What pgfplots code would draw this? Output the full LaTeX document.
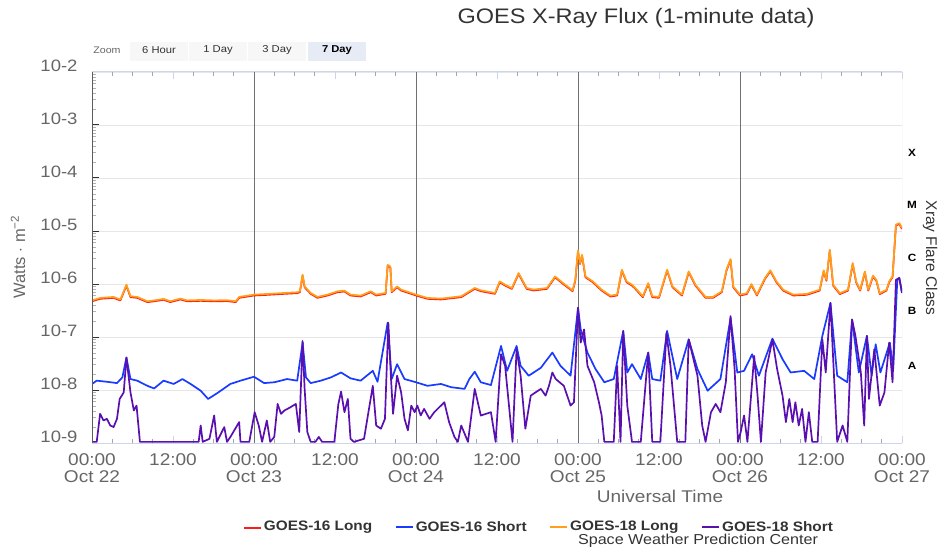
\documentclass[border=0pt]{standalone}
\usepackage{pgfplots}
\pgfplotsset{compat=1.18}
\usepackage{pgfplotstable}
\usepackage{fontspec}
\setmainfont{Liberation Sans}[FakeStretch=1.12]
\newfontfamily\plainsans{Liberation Sans}
\definecolor{labgray}{HTML}{666666}
\definecolor{dark}{HTML}{333333}
\definecolor{axblue}{HTML}{CCD6EB}
\definecolor{gridc}{HTML}{E6E6E6}
\definecolor{dayline}{HTML}{707070}
\definecolor{c16l}{HTML}{FF1A1A}
\definecolor{c16s}{HTML}{1A3BFF}
\definecolor{c18l}{HTML}{FFA01A}
\definecolor{c18s}{HTML}{5A10B0}
\definecolor{btn}{HTML}{F7F7F7}
\definecolor{btnsel}{HTML}{E6EBF5}

\pgfplotstableread{
h v
0 4.9e-7
1.2 5.46e-7
3.2 5.7e-7
4.2 5.08e-7
5.1 9.7e-7
5.7 5.87e-7
6.7 5.7e-7
8.2 4.73e-7
9.2 4.9e-7
10.6 5.24e-7
11.6 4.73e-7
13.1 5.31e-7
14.1 4.9e-7
16.1 5.0e-7
18.1 4.9e-7
20.0 4.95e-7
21.3 4.73e-7
21.8 5.7e-7
24 6.31e-7
26 6.49e-7
28.5 6.78e-7
30.4 6.98e-7
30.8 7.29e-7
31.2 1.5e-6
31.5 9.0e-7
32.4 6.78e-7
33.4 5.7e-7
34.9 6.31e-7
36.4 7.29e-7
37.4 7.5e-7
38.3 6.31e-7
39.8 6.04e-7
41.3 7.29e-7
42.1 6.31e-7
43.5 6.78e-7
43.8 2.3e-6
44.2 2.14e-6
44.4 7.29e-7
45.2 9.0e-7
45.8 7.83e-7
48 6.31e-7
49.7 5.46e-7
51.7 5.31e-7
54.7 5.87e-7
56.7 8.41e-7
57.6 7.6e-7
59.7 6.78e-7
60.4 1.12e-6
61.2 9.7e-7
62.2 8.41e-7
63.2 1.61e-6
64.4 8.41e-7
65.4 7.83e-7
67.4 8.41e-7
68.6 1.39e-6
69.8 1.04e-6
71.2 7.6e-7
71.6 1.2e-6
72.0 4.28e-6
72.3 2.48e-6
72.6 3.55e-6
73.1 1.39e-6
74.2 1.12e-6
75.5 7.83e-7
76.8 6.04e-7
77.8 6.31e-7
78.5 1.86e-6
79.2 1.12e-6
80.0 9.7e-7
80.5 8.41e-7
81.6 5.87e-7
82.4 1.04e-6
83.0 5.87e-7
84.0 5.7e-7
85.2 1.86e-6
86.0 9.0e-7
87.4 6.31e-7
88.4 1.73e-6
89.4 9.7e-7
90.9 5.7e-7
92.0 5.69e-7
93.3 7.28e-7
94.0 1.86e-6
94.6 2.96e-6
95.0 9.0e-7
96.0 6.3e-7
97.0 6.7e-7
97.7 1.0e-6
98.5 6.3e-7
99.7 1.3e-6
100.5 1.81e-6
101.4 1.12e-6
102.4 7.8e-7
103.9 6.3e-7
105.9 6.5e-7
107.8 7.8e-7
108.4 1.81e-6
108.8 1.2e-6
109.3 4.45e-6
109.8 9.7e-7
110.8 6.7e-7
112.0 7.8e-7
112.7 2.49e-6
113.2 1.12e-6
113.8 7.8e-7
114.5 1.73e-6
115.0 7.8e-7
115.7 1.44e-6
116.2 1.2e-6
116.7 6.7e-7
117.7 7.8e-7
118.1 1.12e-6
118.6 1.4e-6
119.1 1.32e-5
119.6 1.41e-5
120 1.14e-5
}\longflux

\pgfplotstableread{
h v
0 1.30e-8
0.7 1.5e-8
2.2 1.43e-8
3.7 1.35e-8
4.5 1.73e-8
5.1 4.1e-8
5.7 1.61e-8
6.7 1.5e-8
8.2 1.2e-8
9.2 1.07e-8
10.6 1.5e-8
12.1 1.3e-8
13.4 1.61e-8
14.6 1.3e-8
16.1 9.7e-9
17.2 6.78e-9
18.6 8.8e-9
20.5 1.3e-8
22 1.5e-8
24 1.78e-8
25.5 1.35e-8
27.0 1.4e-8
28.9 1.61e-8
30.4 1.5e-8
31.2 7.83e-8
31.7 1.73e-8
32.4 1.35e-8
33.9 1.5e-8
35.4 1.73e-8
36.9 2.14e-8
38.3 1.66e-8
39.8 1.5e-8
41.6 2.3e-8
42.3 1.43e-8
43.8 1.86e-7
44.4 1.61e-8
45.2 3.07e-8
46.3 1.61e-8
48 1.4e-8
49.7 1.2e-8
51.7 1.3e-8
53.2 1.13e-8
55.2 1.05e-8
55.9 1.61e-8
56.7 2.21e-8
57.6 1.4e-8
59.1 1.24e-8
60.6 6.78e-8
61.5 2.3e-8
62.9 6.78e-8
63.5 2.86e-8
64.7 1.86e-8
66.5 2.63e-8
68.2 5.08e-8
69.4 2.86e-8
70.9 1.86e-8
72 3.55e-7
72.4 1.39e-7
73.4 5.08e-8
74.6 2.48e-8
75.9 1.4e-8
77.3 1.61e-8
78.7 1.3e-7
79.3 2.14e-8
80.0 3.07e-8
81.3 1.61e-8
82.4 5.08e-8
83.0 1.61e-8
84.2 1.5e-8
85.2 1.3e-7
86.7 1.61e-8
88.4 9.0e-8
89.7 2.48e-8
91.2 9.7e-9
93.1 1.61e-8
94.6 2.3e-7
95.6 2.14e-8
96.6 2.3e-8
97.8 4.73e-8
98.8 1.86e-8
100.8 9.3e-8
102.3 3.81e-8
103.5 2.14e-8
105.5 2.3e-8
107.0 1.61e-8
108.2 1.05e-7
109.4 4.4e-7
110.4 1.86e-8
111.9 1.4e-8
112.6 2.14e-7
113.6 2.14e-8
114.8 1.05e-7
115.5 1.86e-8
116.1 7.29e-8
116.8 2.14e-8
118.2 7.83e-8
118.7 2.48e-8
119.3 1.2e-6
119.6 1.3e-6
120 6.78e-7
}\shortsixteen

\pgfplotstableread{
h v
0 1.05e-9
0.7 1.05e-9
1.2 3.55e-9
1.7 2.66e-9
2.2 2.86e-9
2.7 2.14e-9
3.2 2.0e-9
3.7 2.86e-9
4.1 6.78e-9
4.7 9.0e-9
5.1 4.1e-8
5.7 9.0e-9
6.2 4.1e-9
6.6 5.08e-9
7.1 1.05e-9
15.8 1.05e-9
16.1 2.14e-9
16.4 1.05e-9
17.4 1.2e-9
18.1 3.31e-9
18.5 1.05e-9
19.6 2.0e-9
20.0 1.05e-9
20.5 1.3e-9
21.8 2.48e-9
22.0 1.05e-9
23.3 1.05e-9
24.1 3.81e-9
24.7 2.14e-9
25.2 1.05e-9
25.9 2.66e-9
26.4 1.05e-9
27.0 1.3e-9
27.5 5.46e-9
28.0 3.55e-9
28.5 4.1e-9
29.4 4.73e-9
30.2 5.46e-9
30.7 1.61e-9
31.2 8.41e-8
31.5 1.05e-8
31.9 1.61e-9
32.4 1.05e-9
33.1 1.05e-9
33.6 1.3e-9
34.1 1.05e-9
35.9 1.05e-9
36.5 5.46e-9
36.9 9.33e-9
37.4 3.81e-9
37.9 6.78e-9
38.3 1.2e-9
38.8 1.05e-9
40.3 1.2e-9
41.6 1.2e-8
42.1 2.14e-9
42.8 1.86e-9
43.4 2.86e-9
43.9 1.86e-7
44.3 1.61e-8
44.6 3.55e-9
45.2 1.86e-8
45.8 9.0e-9
46.3 2.86e-9
46.8 1.73e-9
47.3 5.08e-9
47.8 3.81e-9
48.2 5.08e-9
48.7 3.31e-9
49.2 4.4e-9
50.0 2.86e-9
50.7 3.81e-9
52.2 5.87e-9
52.9 2.48e-9
53.7 1.3e-9
54.2 1.05e-9
54.7 2.14e-9
55.7 1.05e-9
56.7 1.05e-8
57.6 3.3e-9
59.1 3.81e-9
59.8 1.05e-9
60.6 4.73e-8
61.2 2.86e-8
62.3 1.05e-9
62.9 5.87e-8
63.5 1.86e-8
64.2 1.86e-9
65.0 7.83e-9
65.7 9.0e-9
66.5 1.05e-8
67.2 7.83e-9
67.7 1.2e-8
68.2 2.14e-8
68.7 1.61e-8
69.9 1.2e-8
70.9 5.08e-9
71.4 5.87e-9
72.0 3.55e-7
72.4 7.83e-8
72.9 1.39e-7
73.4 2.86e-8
74.4 1.4e-8
75.1 5.87e-9
75.5 3.31e-9
75.9 1.05e-9
77.3 1.05e-9
77.8 2.86e-8
78.3 1.05e-9
78.7 1.3e-7
79.3 5.08e-9
80.0 1.05e-9
81.3 1.05e-9
82.4 5.08e-8
83.0 1.05e-9
84.2 1.05e-9
85.1 1.2e-7
85.7 2.86e-8
86.7 1.05e-9
87.9 1.05e-9
88.4 9.0e-8
89.7 1.86e-8
90.4 2.14e-9
90.9 1.05e-9
91.7 3.81e-9
92.4 5.46e-9
93.1 3.81e-9
93.9 1.4e-8
94.6 2.48e-7
95.2 2.48e-8
95.7 1.05e-9
96.1 1.61e-9
96.6 3.31e-9
97.1 1.05e-9
97.6 6.78e-9
98.1 4.4e-8
98.6 7.83e-9
99.1 1.05e-9
99.8 2.14e-8
100.8 9.0e-8
101.5 2.48e-8
102.3 7.83e-9
102.8 2.48e-9
103.3 6.78e-9
103.8 2.48e-9
104.2 5.87e-9
104.7 2.14e-9
105.2 4.4e-9
105.7 1.05e-9
106.2 3.81e-9
106.7 1.05e-9
107.5 1.05e-9
108.2 9.0e-8
108.7 2.14e-8
109.4 4.4e-7
109.9 2.14e-8
110.4 1.05e-9
111.2 2.14e-9
111.9 1.05e-9
112.6 2.14e-7
113.1 1.05e-7
113.9 2.14e-8
114.4 2.14e-9
114.8 1.05e-7
115.1 6.78e-9
115.9 5.87e-8
116.7 5.08e-9
117.4 9.0e-9
118.1 7.83e-8
118.6 1.4e-8
119.1 1.2e-6
119.6 1.3e-6
120 6.78e-7
}\shorteighteen

\begin{document}
\begin{tikzpicture}[x=1pt,y=1pt]
\path[use as bounding box] (0,0) rectangle (943,548);
% title
\node[text=dark, font=\fontsize{21}{24}\selectfont] at (636,530) {GOES X-Ray Flux (1-minute data)};
% zoom buttons
\node[text=labgray, font=\fontsize{9.5}{11}\selectfont] at (107,497.5) {Zoom};
\fill[btn] (130,487) rectangle (188,506);
\fill[btn] (189,487) rectangle (247,506);
\fill[btn] (248,487) rectangle (306,506);
\fill[btnsel] (308,487) rectangle (366,506);
\node[text=dark, font=\fontsize{10}{12}\selectfont] at (159,497.5) {6 Hour};
\node[text=dark, font=\fontsize{10}{12}\selectfont] at (218,497.5) {1 Day};
\node[text=dark, font=\fontsize{10}{12}\selectfont] at (277,497.5) {3 Day};
\node[text=black, font=\fontsize{10}{12}\selectfont\bfseries] at (337,497.5) {7 Day};

\begin{axis}[
  at={(92pt,105pt)}, anchor=south west, scale only axis,
  width=810pt, height=371pt,
  xmin=0, xmax=120, ymode=log, ymin=1e-9, ymax=1e-2,
  axis line style={draw=none},
  xtick={0,12,...,120},
  xticklabels={{00:00\\Oct 22},{12:00},{00:00\\Oct 23},{12:00},{00:00\\Oct 24},{12:00},{00:00\\Oct 25},{12:00},{00:00\\Oct 26},{12:00},{00:00\\Oct 27}},
  minor xtick={3,6,9,15,18,21,27,30,33,39,42,45,51,54,57,63,66,69,75,78,81,87,90,93,99,102,105,111,114,117},
  ytick={1e-9,1e-8,1e-7,1e-6,1e-5,1e-4,1e-3,1e-2},
  yticklabels={10-9,10-8,10-7,10-6,10-5,10-4,10-3,10-2},
  minor ytick={2e-9,3e-9,4e-9,5e-9,6e-9,7e-9,8e-9,9e-9,2e-8,3e-8,4e-8,5e-8,6e-8,7e-8,8e-8,9e-8,2e-7,3e-7,4e-7,5e-7,6e-7,7e-7,8e-7,9e-7,2e-6,3e-6,4e-6,5e-6,6e-6,7e-6,8e-6,9e-6,2e-5,3e-5,4e-5,5e-5,6e-5,7e-5,8e-5,9e-5,2e-4,3e-4,4e-4,5e-4,6e-4,7e-4,8e-4,9e-4,2e-3,3e-3,4e-3,5e-3,6e-3,7e-3,8e-3,9e-3},
  xtick pos=both, ytick pos=left,
  tick align=inside,
  major tick length=7pt, minor tick length=4.5pt,
  major x tick style={color=axblue, line width=1pt},
  minor x tick style={color=gray!70, line width=0.8pt},
  major y tick style={color=dark, line width=1pt},
  minor y tick style={color=gray!60, line width=0.6pt},
  ymajorgrids=true, major grid style={color=gridc, line width=0.8pt},
  xticklabel style={align=center, text=labgray, font=\fontsize{17}{17}\selectfont, yshift=-7pt},
  yticklabel style={text=labgray, font=\fontsize{16.5}{18}\selectfont, yshift=6.5pt, xshift=-11pt},
  legend columns=4,
  legend style={at={(0.552,-0.226)}, anchor=center, draw=none, fill=none,
    font=\fontsize{13.7}{15}\selectfont\bfseries, text=dark,
    /tikz/every even column/.append style={column sep=21pt}},
  legend image code/.code={\draw[#1, line width=1.6pt] (0pt,0pt) -- (17pt,0pt);},
  every axis plot/.append style={line width=1.7pt, line join=round},
]
\draw[color=dayline, line width=0.9pt] (axis cs:24,1e-9) -- (axis cs:24,1e-2);
\draw[color=dayline, line width=0.9pt] (axis cs:48,1e-9) -- (axis cs:48,1e-2);
\draw[color=dayline, line width=0.9pt] (axis cs:72,1e-9) -- (axis cs:72,1e-2);
\draw[color=dayline, line width=0.9pt] (axis cs:96,1e-9) -- (axis cs:96,1e-2);
\addplot[c16l, no marks, yshift=-0.9pt] table[x=h, y=v] {\longflux};
\addlegendentry{GOES-16 Long}
\addplot[c16s, no marks] table[x=h, y=v] {\shortsixteen};
\addlegendentry{GOES-16 Short}
\addplot[c18l, no marks] table[x=h, y=v] {\longflux};
\addlegendentry{GOES-18 Long}
\addplot[c18s, no marks] table[x=h, y=v] {\shorteighteen};
\addlegendentry{GOES-18 Short}
\draw[axblue, line width=1pt] (rel axis cs:0,1) -- (rel axis cs:1,1);
\draw[axblue, line width=1pt] (rel axis cs:0,0) -- (rel axis cs:1,0);
\draw[axblue, line width=1pt] (rel axis cs:1,0) -- (rel axis cs:1,1);
\draw[dark!80, line width=1pt] (rel axis cs:0,0) -- (rel axis cs:0,1);
\end{axis}

% axis titles
\node[rotate=90, text=labgray, font=\plainsans\fontsize{16.5}{18}\selectfont] at (18,291) {Watts $\cdot$ m\textsuperscript{\char"2212 2}};
\node[rotate=-90, text=dark, font=\plainsans\fontsize{15.5}{18}\selectfont] at (930,290) {Xray Flare Class};
\node[text=labgray, font=\fontsize{17}{19}\selectfont] at (660,52) {Universal Time};
% flare classes
\foreach \c/\yy in {X/153, M/205, C/258, B/311, A/366}{
  \node[text=black, font=\fontsize{10.5}{12}\selectfont\bfseries] at (912,548-\yy) {\c};
}
\node[text=dark, font=\fontsize{14.4}{16}\selectfont] at (698,7.5) {Space Weather Prediction Center};
\end{tikzpicture}
\end{document}
